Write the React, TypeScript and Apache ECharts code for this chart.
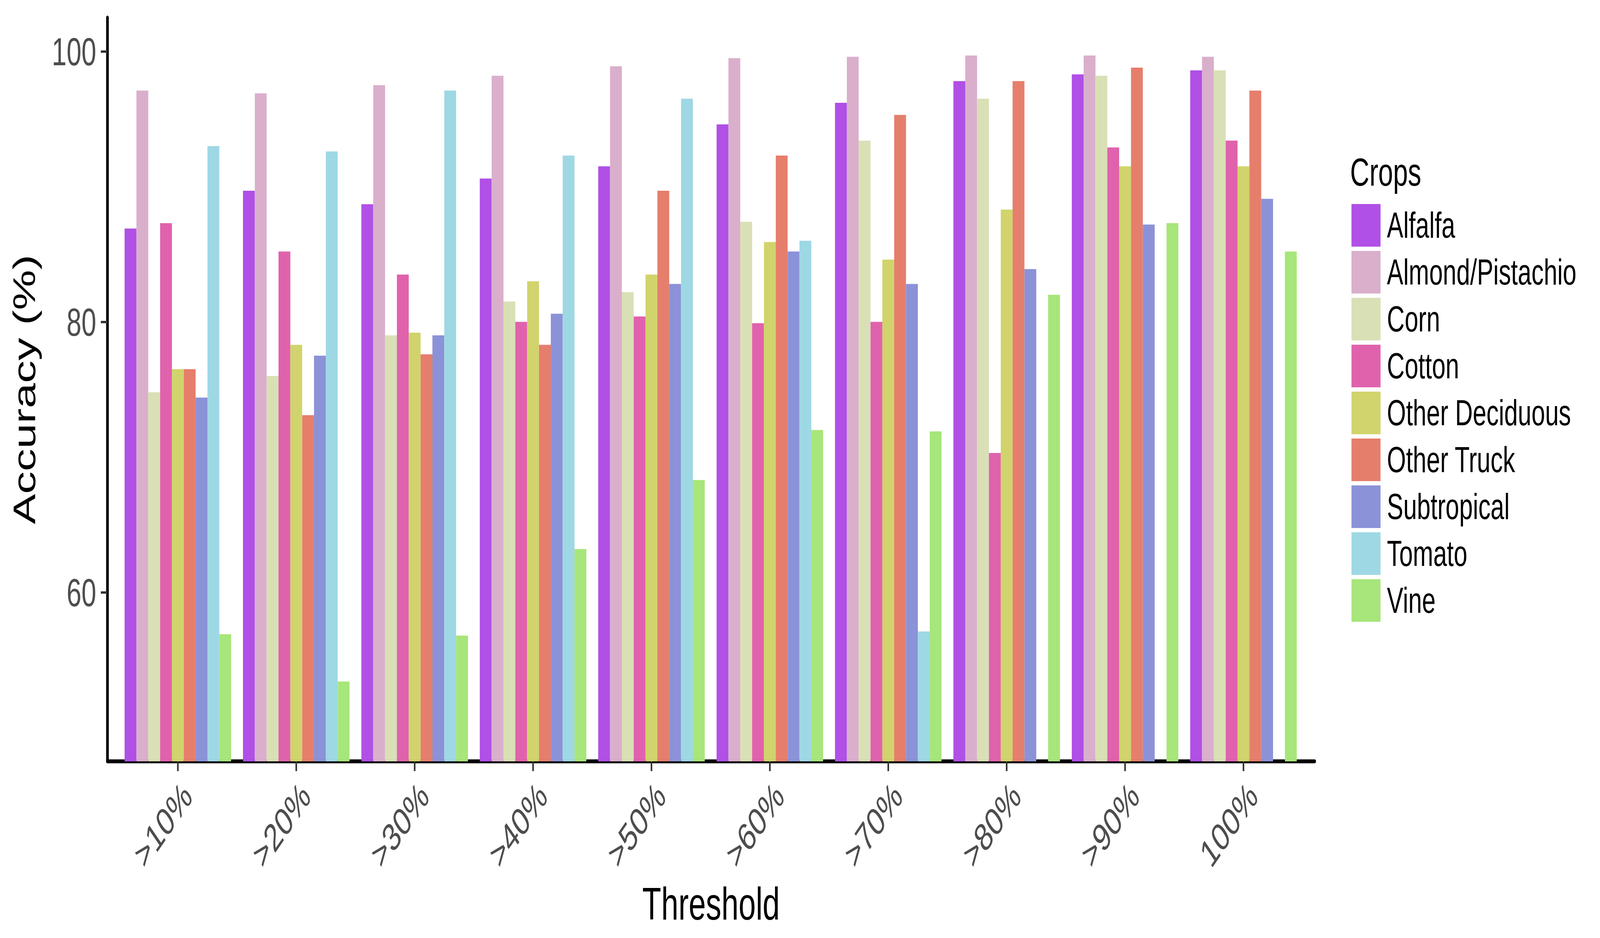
import React, { useEffect, useRef } from "react";
import * as echarts from "echarts";

const categories = [">10%", ">20%", ">30%", ">40%", ">50%", ">60%", ">70%", ">80%", ">90%", "100%"];
const crops = ["Alfalfa", "Almond/Pistachio", "Corn", "Cotton", "Other Deciduous", "Other Truck", "Subtropical", "Tomato", "Vine"];

const alfalfa = [86.9, 89.7, 88.7, 90.6, 91.5, 94.6, 96.2, 97.8, 98.3, 98.6];
const almondPistachio = [97.1, 96.9, 97.5, 98.2, 98.9, 99.5, 99.6, 99.7, 99.7, 99.6];
const corn = [74.8, 76.0, 79.0, 81.5, 82.2, 87.4, 93.4, 96.5, 98.2, 98.6];
const cotton = [87.3, 85.2, 83.5, 80.0, 80.4, 79.9, 80.0, 70.3, 92.9, 93.4];
const otherDeciduous = [76.5, 78.3, 79.2, 83.0, 83.5, 85.9, 84.6, 88.3, 91.5, 91.5];
const otherTruck = [76.5, 73.1, 77.6, 78.3, 89.7, 92.3, 95.3, 97.8, 98.8, 97.1];
const subtropical = [74.4, 77.5, 79.0, 80.6, 82.8, 85.2, 82.8, 83.9, 87.2, 89.1];
const tomato = [93.0, 92.6, 97.1, 92.3, 96.5, 86.0, 57.1, null, null, null];
const vine = [56.9, 53.4, 56.8, 63.2, 68.3, 72.0, 71.9, 82.0, 87.3, 85.2];

const seriesValues = [alfalfa, almondPistachio, corn, cotton, otherDeciduous, otherTruck, subtropical, tomato, vine];
const cropColors = ["#B050E6", "#DAAFCC", "#D9E0B6", "#E062AD", "#D1D36C", "#E67E6C", "#8B92D7", "#9ED8E4", "#A7E67A"];
const yTicks = [60, 80, 100];

const FONT = "'Liberation Sans', Arial, Helvetica, sans-serif";
const W = 6000;
const H = 2400;

export default function App() {
  const ref = useRef<HTMLDivElement>(null);
  const vw = typeof window !== "undefined" ? window.innerWidth : W;
  const vh = typeof window !== "undefined" ? window.innerHeight : H;
  const sx = Math.min(1, vw / W);
  const sy = Math.min(1, vh / H);

  useEffect(() => {
    if (!ref.current) return;
    document.body.style.margin = "0";
    document.body.style.overflow = "hidden";
    const chart = echarts.init(ref.current, null, { renderer: "svg" });
    const top = 45;
    const height = 1903;
    chart.setOption({
      animation: false,
      backgroundColor: "#ffffff",
      color: cropColors,
      textStyle: { fontFamily: FONT },
      title: {
        text: "Crops",
        left: 5063,
        top: 390,
        padding: 0,
        textStyle: { fontSize: 100, fontWeight: "normal", color: "#000000", fontFamily: FONT },
      },
      legend: {
        data: crops,
        orient: "vertical",
        left: 5068,
        top: 522,
        padding: 0,
        itemWidth: 109,
        itemHeight: 109,
        itemGap: 11,
        icon: "rect",
        selectedMode: false,
        textStyle: { fontSize: 92, color: "#000000", fontFamily: FONT, lineHeight: 100, padding: [0, 0, 0, 19] },
      },
      grid: [
        { left: 445, top, width: 4440, height, containLabel: false },
        { left: 403, top, width: 4527, height, containLabel: false },
      ],
      xAxis: [
        {
          type: "category",
          gridIndex: 0,
          data: categories,
          axisLine: { show: false },
          axisTick: { show: true, alignWithLabel: true, length: 25, lineStyle: { color: "#333333", width: 6 } },
          axisLabel: {
            rotate: 45,
            margin: 36,
            align: "right",
            verticalAlign: "top",
            fontSize: 100,
            color: "#4D4D4D",
            fontFamily: FONT,
            interval: 0,
          },
          splitLine: { show: false },
        },
        {
          type: "value",
          gridIndex: 1,
          min: 0,
          max: 1,
          axisLine: { show: true, onZero: false, lineStyle: { color: "#000000", width: 10 } },
          axisTick: { show: false },
          axisLabel: { show: false },
          splitLine: { show: false },
          name: "Threshold",
          nameLocation: "middle",
          nameGap: 307,
          nameTextStyle: { fontSize: 116, color: "#000000", fontFamily: FONT },
        },
      ],
      yAxis: [
        {
          type: "value",
          gridIndex: 0,
          min: 47.5,
          max: 102.5,
          show: false,
          splitLine: { show: false },
        },
        {
          type: "value",
          gridIndex: 1,
          min: 47.5,
          max: 102.5,
          axisLine: { show: true, onZero: false, lineStyle: { color: "#000000", width: 10 } },
          axisTick: { show: true, length: 25, customValues: yTicks, lineStyle: { color: "#333333", width: 6 } },
          axisLabel: { fontSize: 100, color: "#4D4D4D", margin: 42, customValues: yTicks, fontFamily: FONT },
          splitLine: { show: false },
          name: "Accuracy (%)",
          nameLocation: "middle",
          nameGap: 254,
          nameTextStyle: { fontSize: 116, color: "#000000", fontFamily: FONT },
        },
      ],
      series: crops.map((name, i) => ({
        name,
        type: "bar",
        xAxisIndex: 0,
        yAxisIndex: 0,
        data: seriesValues[i],
        barGap: "0%",
        barCategoryGap: "10%",
        itemStyle: { color: cropColors[i] },
      })),
    });
    return () => chart.dispose();
  }, []);

  return (
    <div style={{ width: W * sx, height: H * sy, overflow: "hidden", background: "#ffffff" }}>
      <div
        ref={ref}
        style={{
          width: W,
          height: H,
          background: "#ffffff",
          transform: `scale(${sx}, ${sy})`,
          transformOrigin: "0 0",
        }}
      />
    </div>
  );
}
